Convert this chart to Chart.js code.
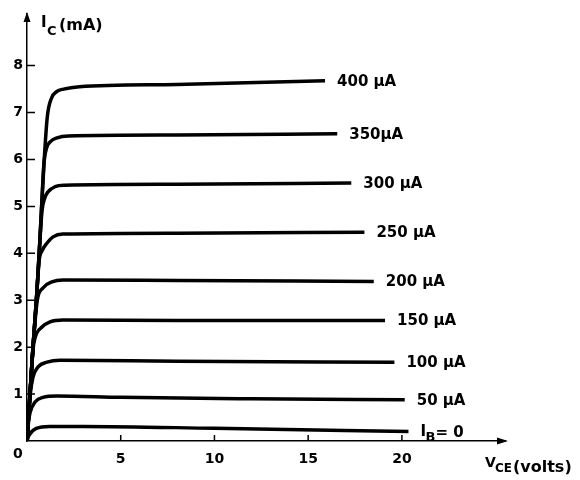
<!DOCTYPE html>
<html>
<head>
<meta charset="utf-8">
<script src="https://cdn.jsdelivr.net/npm/chart.js@4.4.0/dist/chart.umd.min.js"></script>
<style>
  html, body { margin: 0; padding: 0; background: #fff; }
  #wrap { width: 580px; height: 480px; }
</style>
</head>
<body>
<div id="wrap"><canvas id="chart"></canvas></div>
<script>
// Collector characteristics, [VCE (volts), IC (mA)]
const ib0   = [[0, 0], [0.1, 0.12], [0.5, 0.27], [1.2, 0.31], [3, 0.31], [10, 0.27], [20.35, 0.2]];
const ib50  = [[0, 0], [0.08, 0.4], [0.16, 0.6], [0.43, 0.83], [0.85, 0.93], [1.6, 0.96], [5, 0.93], [12, 0.9], [20.15, 0.88]];
const ib100 = [[0, 0], [0.16, 0.95], [0.32, 1.36], [0.59, 1.58], [1.07, 1.68], [1.76, 1.72], [8, 1.7], [19.6, 1.68]];
const ib150 = [[0, 0], [0.16, 1], [0.32, 1.95], [0.43, 2.2], [0.8, 2.43], [1.23, 2.54], [1.92, 2.58], [8, 2.57], [19.1, 2.57]];
const ib200 = [[0, 0], [0.16, 1], [0.32, 2], [0.55, 3], [0.85, 3.26], [1.33, 3.39], [1.92, 3.43], [8, 3.42], [18.5, 3.4]];
const ib250 = [[0, 0], [0.16, 1], [0.32, 2], [0.5, 3], [0.65, 3.85], [0.8, 4.05], [1.07, 4.22], [1.39, 4.35], [1.92, 4.41], [8, 4.43], [18, 4.45]];
const ib300 = [[0, 0], [0.16, 1], [0.32, 2], [0.5, 3], [0.65, 4], [0.8, 4.9], [0.95, 5.18], [1.12, 5.31], [1.5, 5.42], [2, 5.45], [8, 5.47], [17.3, 5.5]];
const ib350 = [[0, 0], [0.16, 1], [0.32, 2], [0.5, 3], [0.65, 4], [0.78, 5], [0.9, 5.9], [1.05, 6.25], [1.25, 6.38], [1.6, 6.46], [2.2, 6.5], [8, 6.52], [16.55, 6.55]];
const ib400 = [[0, 0], [0.16, 1], [0.32, 2], [0.5, 3], [0.65, 4], [0.78, 5], [0.92, 6], [1.08, 6.9], [1.3, 7.3], [1.6, 7.45], [1.95, 7.5], [2.8, 7.55], [8, 7.6], [15.9, 7.68]];

const curves = [ib0, ib50, ib100, ib150, ib200, ib250, ib300, ib350, ib400];
const curveLabels = ['I_B=0', '50 µA', '100 µA', '150 µA', '200 µA', '250 µA', '300 µA', '350µA', '400 µA'];
const xTicks = [5, 10, 15, 20];
const yTicks = [1, 2, 3, 4, 5, 6, 7, 8];

const boldFont = size => 'bold ' + size + 'px "DejaVu Sans"';

// tick marks, arrows, axis titles and curve labels
const annotate = {
    id: 'annotate',
    afterDraw(chart) {
        const ctx = chart.ctx;
        const xs = chart.scales.x;
        const ys = chart.scales.y;
        const x0 = xs.getPixelForValue(0);
        const y0 = ys.getPixelForValue(0);
        ctx.save();
        ctx.strokeStyle = '#000';
        ctx.fillStyle = '#000';
        ctx.lineWidth = 1.5;

        // inward tick marks
        ctx.beginPath();
        yTicks.forEach(v => {
            const y = ys.getPixelForValue(v);
            ctx.moveTo(x0, y);
            ctx.lineTo(x0 + 8, y);
        });
        xTicks.forEach(v => {
            const x = xs.getPixelForValue(v);
            ctx.moveTo(x, y0);
            ctx.lineTo(x, y0 - 6);
        });
        ctx.stroke();

        // arrow heads
        const top = chart.chartArea.top;
        const right = chart.chartArea.right;
        ctx.beginPath();
        ctx.moveTo(x0, top - 2);
        ctx.lineTo(x0 - 3.5, top + 8);
        ctx.lineTo(x0 + 3.5, top + 8);
        ctx.closePath();
        ctx.moveTo(right + 3, y0);
        ctx.lineTo(right - 8, y0 - 3.5);
        ctx.lineTo(right - 8, y0 + 3.5);
        ctx.closePath();
        ctx.fill();

        ctx.textBaseline = 'alphabetic';
        ctx.textAlign = 'left';

        // origin label
        ctx.font = boldFont(14);
        ctx.fillText('0', x0 - 14, y0 + 17);

        // I_C (mA)
        ctx.font = boldFont(15);
        ctx.fillText('I', x0 + 14, top + 13);
        ctx.font = boldFont(13);
        ctx.fillText('C', x0 + 20, top + 21);
        ctx.font = boldFont(16);
        ctx.fillText('(mA)', x0 + 32, top + 16);

        // V_CE (volts)
        ctx.font = boldFont(14);
        ctx.fillText('V', right - 20, y0 + 26);
        ctx.font = boldFont(12);
        ctx.fillText('CE', right - 10, y0 + 31);
        ctx.font = boldFont(16);
        ctx.fillText('(volts)', right + 8, y0 + 31);

        // curve labels at the end of each line
        chart.data.datasets.forEach((ds, i) => {
            const pts = chart.getDatasetMeta(i).data;
            const last = pts[pts.length - 1];
            const lx = last.x + 12;
            const ly = last.y;
            if (curveLabels[i] === 'I_B=0') {
                ctx.font = boldFont(15);
                ctx.fillText('I', lx, ly + 4);
                ctx.font = boldFont(13);
                ctx.fillText('B', lx + 5, ly + 9);
                ctx.font = boldFont(15);
                ctx.fillText('= 0', lx + 15, ly + 5);
            } else {
                ctx.font = boldFont(15);
                ctx.textBaseline = 'middle';
                ctx.fillText(curveLabels[i], lx, ly + 1);
                ctx.textBaseline = 'alphabetic';
            }
        });
        ctx.restore();
    }
};

const tickFont = { family: 'DejaVu Sans', weight: 'bold', size: 14 };

new Chart(document.getElementById('chart'), {
    type: 'line',
    data: {
        datasets: curves.map((c, i) => ({
            label: curveLabels[i],
            data: c.map(p => ({ x: p[0], y: p[1] })),
            borderColor: '#000',
            borderWidth: 3.5,
            pointRadius: 0,
            fill: false,
            cubicInterpolationMode: 'monotone',
            borderJoinStyle: 'round'
        }))
    },
    options: {
        responsive: true,
        maintainAspectRatio: false,
        animation: false,
        layout: { padding: { top: 14, right: 75, left: 0, bottom: 0 } },
        plugins: {
            legend: { display: false },
            tooltip: { enabled: false }
        },
        scales: {
            x: {
                type: 'linear',
                min: 0,
                max: 25.5,
                afterFit: s => { s.height = 39; },
                afterBuildTicks: s => { s.ticks = xTicks.map(v => ({ value: v })); },
                grid: { display: false, drawTicks: false },
                border: { display: true, color: '#000', width: 1.5 },
                ticks: { color: '#000', font: tickFont, padding: 10, maxRotation: 0, autoSkip: false }
            },
            y: {
                type: 'linear',
                min: 0,
                max: 9.1,
                afterFit: s => { s.width = 27; },
                afterBuildTicks: s => { s.ticks = yTicks.map(v => ({ value: v })); },
                grid: { display: false, drawTicks: false },
                border: { display: true, color: '#000', width: 1.5 },
                ticks: { color: '#000', font: tickFont, padding: 4, autoSkip: false }
            }
        }
    },
    plugins: [annotate]
});
</script>
</body>
</html>
